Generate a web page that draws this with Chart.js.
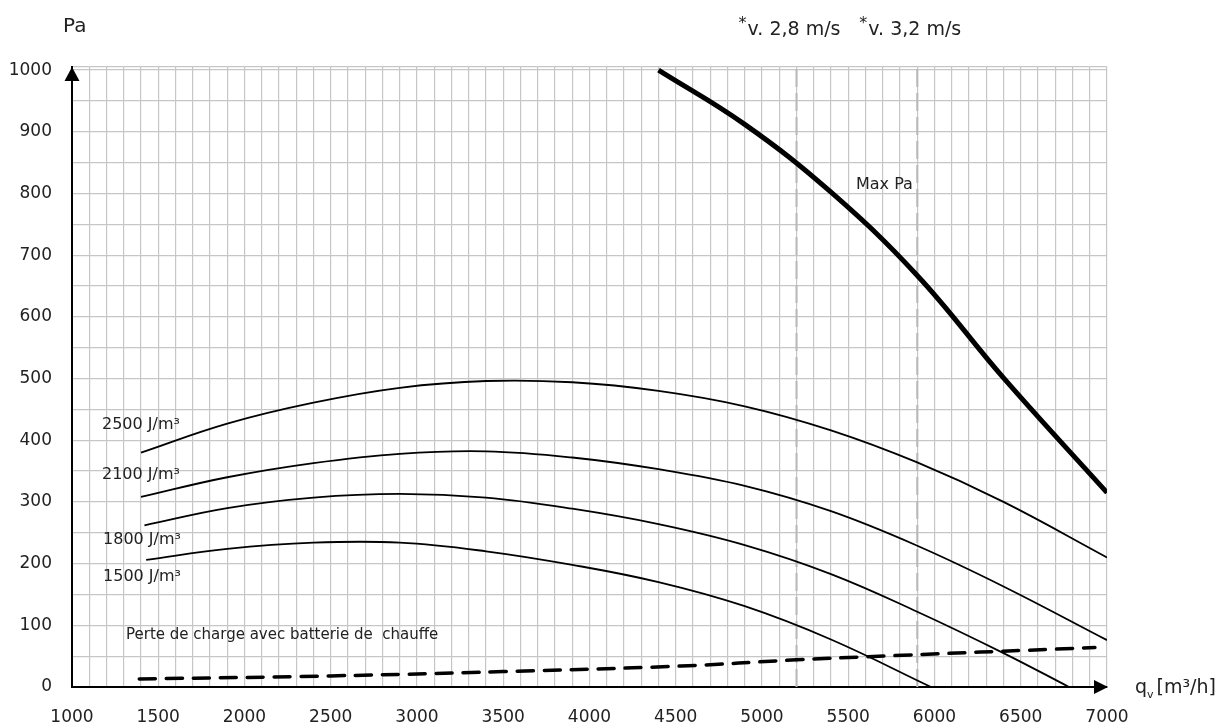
<!DOCTYPE html>
<html><head><meta charset="utf-8">
<script src="https://cdn.jsdelivr.net/npm/chart.js@4/dist/chart.umd.min.js"></script>
<style>html,body{margin:0;padding:0;background:#fff}#wrap{width:1229px;height:728px;position:relative}</style>
</head><body><div id="wrap"><canvas id="c" width="1229" height="728"></canvas></div>
<script>
// ---- data ----
const xTickLabels = [1000,1500,2000,2500,3000,3500,4000,4500,5000,5500,6000,6500,7000];
const yTickLabels = [0,100,200,300,400,500,600,700,800,900,1000];

const flow2500 = [1400,1900,2400,2900,3400,3900,4400,4900,5400,5900,6400,7000];
const pa2500   = [380, 427, 461, 485, 496, 494, 480, 455, 416, 364, 300, 210];

const flow2100 = [1400,1900,2400,2900,3400,3900,4400,4900,5400,5900,6400,7000];
const pa2100   = [308, 340, 363, 378, 382, 372, 353, 326, 285, 229, 163, 76];

const flow1800 = [1420,1900,2400,2900,3400,3900,4400,4900,5400,5900,6400,6780];
const pa1800   = [262, 290, 307, 313, 307, 289, 264, 230, 183, 122, 55, 0];

const flow1500 = [1430,1900,2400,2900,3400,3900,4400,4900,5400,5980];
const pa1500   = [206, 224, 234, 234, 220, 198, 170, 131, 77, 0];

const flowMax = [4400,4900,5400,5900,6400,7000];
const paMax   = [1000, 912, 802, 667, 501, 315];

const flowLoss = [1390,2500,3500,4530,5200,5600,6930];
const paLoss   = [13, 18, 25, 34, 44, 49, 64];

const velocityFlows  = [5200, 5900];
const velocityLabels = ['v. 2,8 m/s', 'v. 3,2 m/s'];

const curveLabels = ['2500 J/m³','2100 J/m³','1800 J/m³','1500 J/m³'];
const curveLabelPos = [[1174,425],[1174,344],[1180,238],[1180,178]];
const lossLabel = 'Perte de charge avec batterie de  chauffe';
const lossLabelPos = [1313, 84];
const maxLabel = 'Max Pa';
const maxLabelPos = [5545, 814];

const X_MIN = 1000, X_MAX = 7000, Y_MIN = 0, Y_MAX = 1005;

// ---- helpers ----
const pts = (xs, ys) => xs.map((x, i) => ({x, y: ys[i]}));
const FONT = '"DejaVu Sans", "Noto Sans", sans-serif';
const TXT = '#222';

const xGrid = []; for (let v = X_MIN; v <= X_MAX; v += 100) xGrid.push(v);
const yGrid = []; for (let v = Y_MIN; v <= 1000; v += 50) yGrid.push(v); yGrid.push(Y_MAX);

const curveStyle = {borderColor:'#000', borderWidth:1.8, pointRadius:0, tension:0.4, fill:false};

const datasets = [
  Object.assign({label:'2500', data: pts(flow2500, pa2500)}, curveStyle),
  Object.assign({label:'2100', data: pts(flow2100, pa2100)}, curveStyle),
  Object.assign({label:'1800', data: pts(flow1800, pa1800)}, curveStyle),
  Object.assign({label:'1500', data: pts(flow1500, pa1500)}, curveStyle),
  {label:'Max Pa', data: pts(flowMax, paMax), borderColor:'#000', borderWidth:5, pointRadius:0, tension:0.4, borderCapStyle:'butt'},
  {label:'Perte', data: pts(flowLoss, paLoss), borderColor:'#000', borderWidth:3.5, pointRadius:0, borderDash:[16,11], tension:0.4, borderCapStyle:'round'},
  ...velocityFlows.map((v, i) => ({label:'vel'+i, data:[{x:v,y:Y_MIN},{x:v,y:Y_MAX}], borderColor:'#b8b8b8', borderWidth:2, borderDash:[18,6], pointRadius:0, order:10}))
];

const annot = {
  id:'annot',
  afterDraw(chart) {
    const ctx = chart.ctx, xs = chart.scales.x, ys = chart.scales.y, a = chart.chartArea;
    ctx.save();
    // arrow heads
    ctx.fillStyle = '#000';
    ctx.beginPath();
    ctx.moveTo(a.left, a.top); ctx.lineTo(a.left - 7.5, a.top + 14); ctx.lineTo(a.left + 7.5, a.top + 14); ctx.closePath(); ctx.fill();
    ctx.beginPath();
    ctx.moveTo(a.right + 1, a.bottom); ctx.lineTo(a.right - 13, a.bottom - 7); ctx.lineTo(a.right - 13, a.bottom + 7); ctx.closePath(); ctx.fill();

    ctx.fillStyle = TXT;
    ctx.textBaseline = 'middle';
    ctx.textAlign = 'left';
    // axis titles
    ctx.font = '20px ' + FONT;
    ctx.fillText('Pa', 63, 27);
    ctx.font = '19px ' + FONT;
    let qx = 1135;
    ctx.fillText('q', qx, 688); qx += ctx.measureText('q').width;
    ctx.font = '11px ' + FONT; ctx.fillText('v', qx, 695); qx += ctx.measureText('v').width + 3;
    ctx.font = '19px ' + FONT; ctx.fillText('[m³/h]', qx, 688);

    // velocity labels
    velocityFlows.forEach((v, i) => {
      ctx.font = '19px ' + FONT;
      const w = ctx.measureText(velocityLabels[i]).width;
      ctx.font = '16px ' + FONT;
      const sw = ctx.measureText('*').width;
      const total = w + sw + 1;
      const x0 = xs.getPixelForValue(v) - 7 - total / 2;
      ctx.fillText('*', x0, 24);
      ctx.font = '19px ' + FONT;
      ctx.fillText(velocityLabels[i], x0 + sw + 1, 30);
    });

    // in-plot labels
    ctx.font = '16px ' + FONT;
    curveLabels.forEach((t, i) => ctx.fillText(t, xs.getPixelForValue(curveLabelPos[i][0]), ys.getPixelForValue(curveLabelPos[i][1])));
    ctx.font = '15px ' + FONT;
    ctx.fillText(lossLabel, xs.getPixelForValue(lossLabelPos[0]), ys.getPixelForValue(lossLabelPos[1]));
    ctx.font = '16px ' + FONT;
    ctx.fillText(maxLabel, xs.getPixelForValue(maxLabelPos[0]), ys.getPixelForValue(maxLabelPos[1]));
    ctx.restore();
  }
};

new Chart(document.getElementById('c'), {
  type: 'line',
  data: { datasets },
  options: {
    responsive: false,
    devicePixelRatio: 1,
    animation: false,
    parsing: false,
    normalized: true,
    layout: { padding: { left: 0, right: 122, top: 67, bottom: 0 } },
    plugins: { legend: {display:false}, tooltip: {enabled:false}, title:{display:false} },
    scales: {
      x: {
        type: 'linear', min: X_MIN, max: X_MAX,
        afterBuildTicks: s => { s.ticks = xGrid.map(v => ({value: v})); },
        afterFit: s => { s.height = 41; },
        grid: { color: '#c6c6c6', lineWidth: 1.2, drawTicks: false },
        border: { display: true, color: '#000', width: 2 },
        ticks: { autoSkip: false, maxRotation: 0, padding: 20, color: TXT, font: {family: FONT, size: 17},
          callback: v => xTickLabels.includes(v) ? String(v) : '' }
      },
      y: {
        type: 'linear', min: Y_MIN, max: Y_MAX,
        afterBuildTicks: s => { s.ticks = yGrid.map(v => ({value: v})); },
        afterFit: s => { s.width = 72; },
        grid: { color: '#c6c6c6', lineWidth: 1.2, drawTicks: false },
        border: { display: true, color: '#000', width: 2 },
        ticks: { autoSkip: false, padding: 20, color: TXT, font: {family: FONT, size: 17},
          callback: v => yTickLabels.includes(v) ? String(v) : '' }
      }
    }
  },
  plugins: [annot]
});
</script></body></html>
